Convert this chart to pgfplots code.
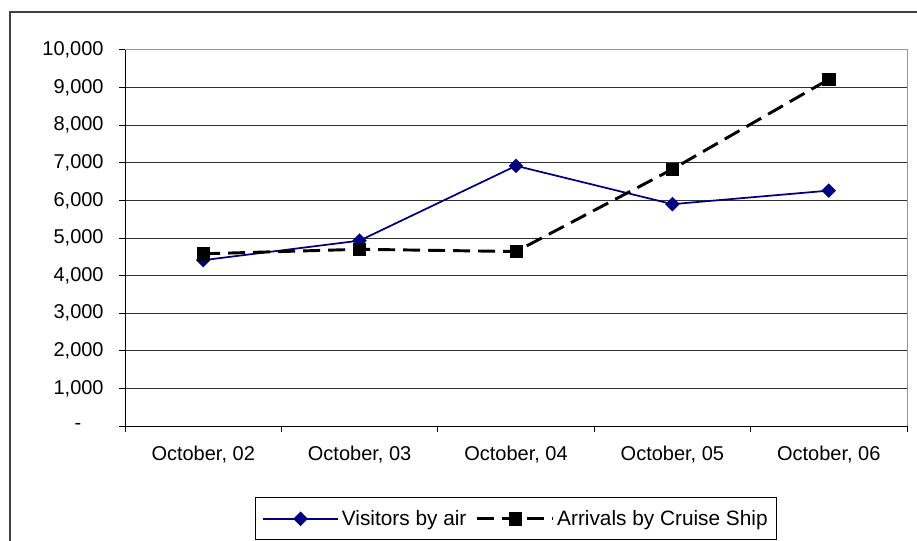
\documentclass[border=0pt]{standalone}
\usepackage{fontspec}
\setmainfont{Liberation Sans}
\usepackage{pgfplots}
\pgfplotsset{compat=1.18}
\definecolor{navyblue}{RGB}{0,0,128}
\definecolor{gridc}{RGB}{50,50,50}
\definecolor{borderc}{RGB}{150,150,150}
\begin{document}
\begin{tikzpicture}
\path[use as bounding box] (0,0) rectangle (687.75pt,405pt);
\clip (0,0) rectangle (687.75pt,405pt);
\draw[line width=1.4pt, color=black!75] (7.5pt,-5pt) -- (7.5pt,396.2pt) -- (700pt,396.2pt);
\begin{axis}[
  at={(93.75pt,85.5pt)}, anchor=south west,
  scale only axis, width=586.5pt, height=282pt,
  xmin=-0.5, xmax=4.5, ymin=0, ymax=10000,
  clip=false,
  scaled y ticks=false,
  axis line style={draw=none},
  xtick={0,1,2,3,4},
  xticklabels={{October, 02},{October, 03},{October, 04},{October, 05},{October, 06}},
  minor xtick={-0.5,0.5,1.5,2.5,3.5,4.5},
  major x tick style={draw=none},
  ytick={0,1000,2000,3000,4000,5000,6000,7000,8000,9000,10000},
  yticklabels={{-\hphantom{00}},{1,000},{2,000},{3,000},{4,000},{5,000},{6,000},{7,000},{8,000},{9,000},{10,000}},
  tick align=outside, tick pos=left,
  major tick length=4.5pt, minor tick length=4.5pt,
  tick style={black, line width=0.75pt},
  ymajorgrids, major grid style={gridc, line width=0.75pt},
  /pgf/number format/assume math mode=true,
  tick label style={font=\fontsize{15}{18}\selectfont, black},
  yticklabel style={xshift=-8pt},
  xticklabel style={yshift=-7pt},
  legend style={at={(0.5,-0.189)}, anchor=north, legend columns=2, draw=black, line width=0.75pt,
    font=\fontsize{15.6}{18}\selectfont, inner xsep=4.5pt, inner ysep=7.5pt,
    /tikz/every even column/.append style={column sep=5pt}},
  legend image code/.code={\draw[mark repeat=2,mark phase=2] plot coordinates {(0cm,0cm) (1cm,0cm) (2cm,0cm)};},
]
\draw[borderc, line width=0.75pt] (rel axis cs:0,1) -- (rel axis cs:1,1) -- (rel axis cs:1,0);
\draw[black, line width=0.75pt] (rel axis cs:0,1) -- (rel axis cs:0,0) -- (rel axis cs:1,0);
\addplot[navyblue, line width=1.3pt, mark=square*, mark size=3.2pt, mark options={rotate=45, solid, fill=navyblue}]
  coordinates {(0,4410) (1,4930) (2,6920) (3,5900) (4,6260)};
\addlegendentry{Visitors by air}
\addplot[black, line width=2.2pt, dash pattern=on 12.75pt off 6pt, mark=square*, mark size=4.6pt, mark options={solid, fill=black, line width=0.5pt}]
  coordinates {(0,4580) (1,4700) (2,4640) (3,6830) (4,9220)};
\addlegendentry{Arrivals by Cruise Ship}
\end{axis}
\end{tikzpicture}
\end{document}
